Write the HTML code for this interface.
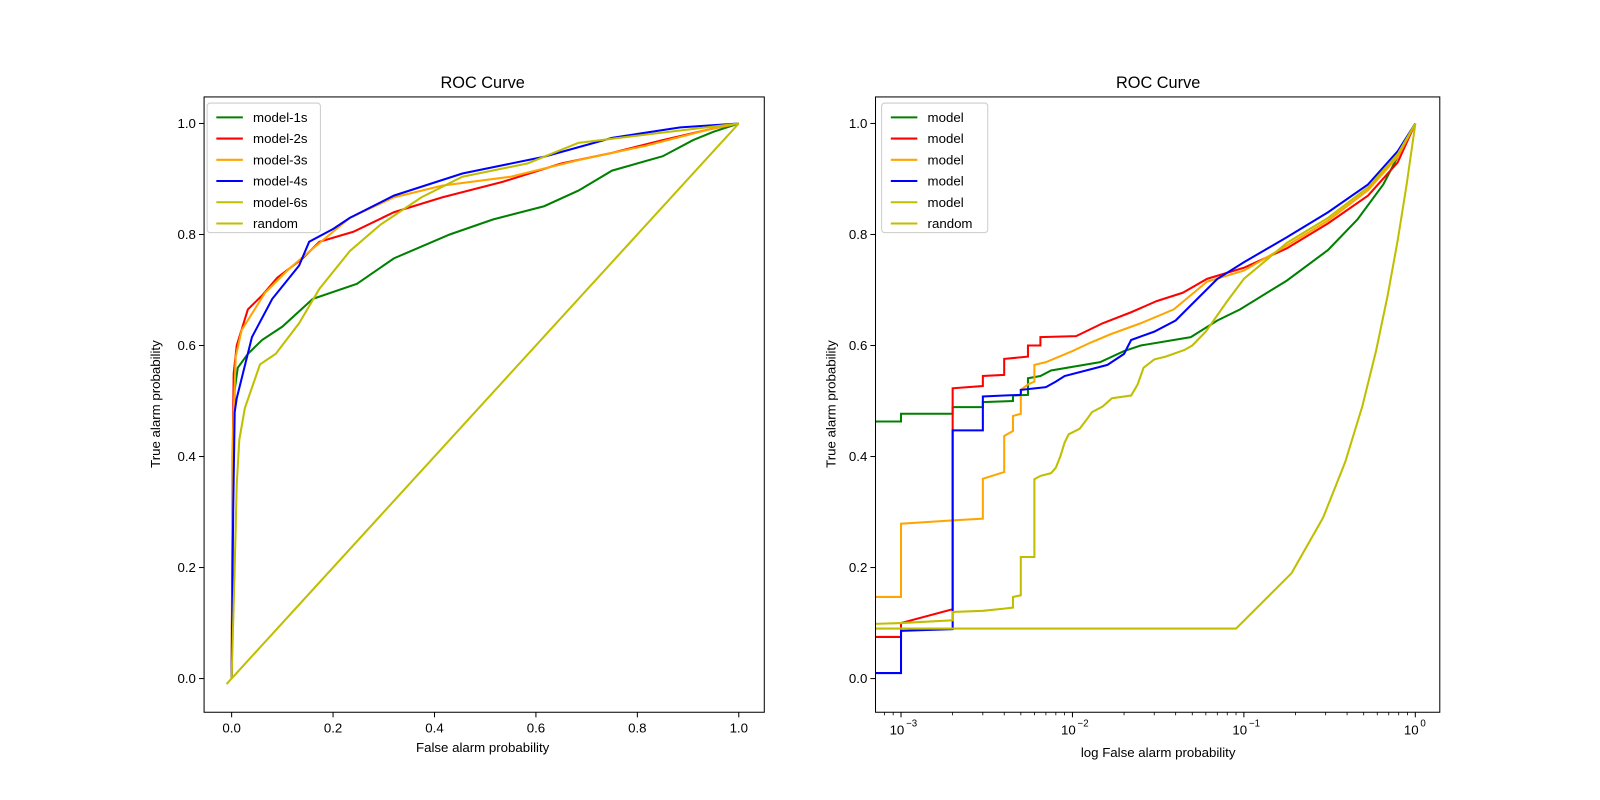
<!DOCTYPE html>
<html><head><meta charset="utf-8"><style>
body{margin:0;background:#fff;}
svg{display:block;font-family:"Liberation Sans","DejaVu Sans",sans-serif;}
</style></head><body>
<svg id="chart" width="1600" height="800" viewBox="0 0 1600 800">
<defs>
<clipPath id="clipL"><rect x="200" y="95" width="549" height="603"/></clipPath>
<clipPath id="clipR"><rect x="858" y="95" width="553" height="603"/></clipPath>
</defs>
<rect width="1600" height="800" fill="#fff"/>
<g transform="scale(1.020408)">
<g id="gL"></g>
<g id="gR"></g>
</g>
</svg>
<script>
const NS='http://www.w3.org/2000/svg';
const seriesNames=['model-1s','model-2s','model-3s','model-4s','model-6s','random'];
const seriesColors=['#008000','#ff0000','#ffa500','#0000ff','#bfbf00','#bfbf00'];
const yTicks=[0,0.2,0.4,0.6,0.8,1.0];
const yTickLabels=['0.0','0.2','0.4','0.6','0.8','1.0'];
const xTicksL=[0,0.2,0.4,0.6,0.8,1.0];
const xTickLabelsL=['0.0','0.2','0.4','0.6','0.8','1.0'];
const xTicksR=[-3,-2,-1,0];
// left panel data: [fpr, tpr]
const left1s=[[0,0],[0.002,0.3],[0.006,0.52],[0.012,0.56],[0.032,0.585],[0.06,0.61],[0.1,0.634],[0.16,0.684],[0.247,0.711],[0.32,0.757],[0.43,0.8],[0.515,0.827],[0.616,0.851],[0.684,0.879],[0.75,0.915],[0.85,0.941],[0.91,0.97],[0.95,0.985],[1,1]];
const left2s=[[0,0],[0.002,0.4],[0.004,0.55],[0.01,0.6],[0.032,0.665],[0.06,0.69],[0.09,0.722],[0.14,0.757],[0.173,0.787],[0.24,0.805],[0.32,0.84],[0.415,0.867],[0.535,0.895],[0.65,0.928],[0.75,0.947],[0.85,0.97],[0.945,0.99],[1,1]];
const left3s=[[0,0],[0.003,0.45],[0.008,0.58],[0.02,0.628],[0.066,0.695],[0.113,0.738],[0.167,0.78],[0.233,0.83],[0.32,0.867],[0.415,0.888],[0.55,0.904],[0.684,0.934],[0.817,0.96],[0.945,0.99],[1,1]];
const left4s=[[0,0],[0.003,0.3],[0.006,0.48],[0.01,0.505],[0.04,0.615],[0.08,0.684],[0.133,0.744],[0.153,0.787],[0.2,0.81],[0.233,0.83],[0.32,0.87],[0.455,0.91],[0.616,0.94],[0.75,0.974],[0.885,0.993],[1,1]];
const left6s=[[0,0],[0.006,0.2],[0.01,0.35],[0.015,0.43],[0.026,0.487],[0.056,0.566],[0.087,0.585],[0.133,0.64],[0.173,0.702],[0.233,0.77],[0.294,0.818],[0.374,0.867],[0.455,0.904],[0.583,0.928],[0.684,0.965],[0.817,0.98],[1,1]];
const leftRandom=[[-0.01,-0.01],[1,1]];
// right (log) panel data: [fpr, tpr]
const right1s=[[0.0005,0.463],[0.001,0.463],[0.001,0.477],[0.002,0.477],[0.002,0.489],[0.003,0.489],[0.003,0.498],[0.0045,0.5],[0.0045,0.51],[0.0055,0.511],[0.0055,0.541],[0.0065,0.545],[0.0075,0.555],[0.0145,0.57],[0.02,0.59],[0.025,0.6],[0.049,0.615],[0.07,0.645],[0.095,0.665],[0.178,0.717],[0.31,0.772],[0.46,0.827],[0.65,0.89],[0.87,0.965],[1,1]];
const right2s=[[0.0005,0.075],[0.001,0.075],[0.001,0.1],[0.002,0.125],[0.002,0.523],[0.003,0.527],[0.003,0.545],[0.004,0.547],[0.004,0.576],[0.0055,0.58],[0.0055,0.6],[0.0065,0.6],[0.0065,0.615],[0.0105,0.617],[0.015,0.64],[0.022,0.66],[0.031,0.68],[0.044,0.695],[0.061,0.72],[0.1,0.74],[0.178,0.775],[0.31,0.82],[0.53,0.87],[0.79,0.93],[1,1]];
const right3s=[[0.0005,0.147],[0.001,0.147],[0.001,0.279],[0.002,0.285],[0.003,0.288],[0.003,0.36],[0.004,0.372],[0.004,0.437],[0.0045,0.446],[0.0045,0.473],[0.005,0.477],[0.005,0.52],[0.0055,0.53],[0.006,0.535],[0.006,0.565],[0.007,0.57],[0.01,0.59],[0.0127,0.605],[0.0166,0.62],[0.025,0.64],[0.039,0.665],[0.061,0.715],[0.1,0.735],[0.178,0.78],[0.31,0.825],[0.53,0.88],[0.79,0.94],[1,1]];
const right4s=[[0.0005,0.01],[0.001,0.01],[0.001,0.086],[0.002,0.089],[0.002,0.447],[0.003,0.447],[0.003,0.508],[0.004,0.51],[0.005,0.511],[0.005,0.52],[0.007,0.525],[0.008,0.535],[0.009,0.545],[0.012,0.555],[0.016,0.565],[0.02,0.585],[0.022,0.61],[0.03,0.625],[0.04,0.645],[0.05,0.675],[0.07,0.72],[0.1,0.75],[0.178,0.795],[0.31,0.84],[0.53,0.89],[0.79,0.95],[1,1]];
const right6s=[[0.0005,0.097],[0.001,0.1],[0.002,0.105],[0.002,0.12],[0.003,0.122],[0.004,0.126],[0.0045,0.128],[0.0045,0.147],[0.005,0.15],[0.005,0.219],[0.006,0.219],[0.006,0.359],[0.0065,0.365],[0.0075,0.37],[0.008,0.38],[0.0085,0.4],[0.009,0.425],[0.0095,0.44],[0.011,0.45],[0.012,0.465],[0.013,0.48],[0.015,0.49],[0.017,0.505],[0.022,0.51],[0.024,0.53],[0.026,0.56],[0.03,0.575],[0.035,0.58],[0.045,0.592],[0.05,0.6],[0.06,0.625],[0.08,0.68],[0.1,0.72],[0.178,0.785],[0.31,0.83],[0.53,0.885],[0.79,0.945],[1,1]];
const rightRandom=[[0.0005,0.09],[0.09,0.09],[0.19,0.19],[0.29,0.29],[0.39,0.39],[0.49,0.49],[0.59,0.59],[0.69,0.69],[0.79,0.79],[0.89,0.89],[0.99,0.99],[1,1]];
const leftSeries=[left1s,left2s,left3s,left4s,left6s,leftRandom];
const rightSeries=[right1s,right2s,right3s,right4s,right6s,rightRandom];

function el(tag,attrs,parent){const e=document.createElementNS(NS,tag);for(const k in attrs)e.setAttribute(k,attrs[k]);parent.appendChild(e);return e;}
const yS=v=>665-544*v;
const xL=v=>227+497*v;
const xR=v=>883+168*(Math.log10(v)+3);

function yAxis(g,x0){
  yTicks.forEach((t,i)=>{
    const tk=el('line',{x1:x0-5,x2:x0,y1:yS(t),y2:yS(t),stroke:'#000','stroke-width':1},g);
    
    
    const tx=el('text',{x:x0-8,y:yS(t)+4.5,'text-anchor':'end','font-size':'13'},g);
    tx.textContent=yTickLabels[i];
    
    
  });
}
function frame(g,x,w,name){
  const r=el('rect',{x:x,y:95,width:w,height:603,fill:'none',stroke:'#000','stroke-width':1},g);
  
  
}
function drawSeries(g,data,xf,clip,logScale){
  data.forEach((pts,i)=>{
    const p=pts.filter(d=>!logScale||d[0]>0).map(d=>xf(d[0]).toFixed(1)+','+yS(d[1]).toFixed(1)).join(' ');
    const pl=el('polyline',{points:p,fill:'none',stroke:seriesColors[i],'stroke-width':2,'clip-path':'url(#'+clip+')','stroke-linejoin':'miter'},g);
    
    
  });
}
function legend(g,x,w,labels){
  const box=el('rect',{x:x,y:101,width:w,height:127,rx:3,fill:'#fff','fill-opacity':0.8,stroke:'#ccc','stroke-width':1},g);
  
  
  labels.forEach((lb,i)=>{
    const y=115+i*20.8;
    const ln=el('line',{x1:x+9,x2:x+35,y1:y,y2:y,stroke:seriesColors[i],'stroke-width':2},g);
    
    
    const t=el('text',{x:x+45,y:y+4.5,'font-size':'13'},g);
    t.textContent=lb;
    
    
  });
}
function title(g,x,txt){const t=el('text',{x:x,y:86,'text-anchor':'middle','font-size':'16'},g);t.textContent=txt;}

// LEFT
const gL=document.getElementById('gL');
drawSeries(gL,leftSeries,xL,'clipL',false);
frame(gL,200,549,'left-plot-area');
yAxis(gL,200);
xTicksL.forEach((t,i)=>{
  const tk=el('line',{x1:xL(t),x2:xL(t),y1:698,y2:703,stroke:'#000','stroke-width':1},gL);
  
  
  const tx=el('text',{x:xL(t),y:718,'text-anchor':'middle','font-size':'13'},gL);
  tx.textContent=xTickLabelsL[i];
  
  
});
title(gL,473,'ROC Curve');
(function(){const t=el('text',{x:473,y:737,'text-anchor':'middle','font-size':'13'},gL);t.textContent='False alarm probability';
const t2=el('text',{x:0,y:0,'text-anchor':'middle','font-size':'13',transform:'translate(157,396) rotate(-90)'},gL);t2.textContent='True alarm probability';})();
legend(gL,203,111,seriesNames);

// RIGHT
const gR=document.getElementById('gR');
drawSeries(gR,rightSeries,xR,'clipR',true);
frame(gR,858,553,'right-plot-area');
yAxis(gR,858);
for(let d=-4;d<=0;d++){for(let m=2;m<=9;m++){const v=m*Math.pow(10,d);const x=xR(v);if(x<858||x>1411)continue;
  const tk=el('line',{x1:x,x2:x,y1:698,y2:701,stroke:'#000','stroke-width':0.8},gR);
  
  }}
xTicksR.forEach(e=>{
  const x=xR(Math.pow(10,e));
  const tk=el('line',{x1:x,x2:x,y1:698,y2:703,stroke:'#000','stroke-width':1},gR);
  
  
  const tx=el('text',{x:x-4,y:720,'text-anchor':'middle','font-size':'13'},gR);
  tx.textContent='10';
  
  
  const sp=el('text',{x:x+5,y:712,'text-anchor':'start','font-size':'9.5'},gR);
  sp.textContent=e===0?'0':'\u2212'+(-e);
  
  
});
title(gR,1135,'ROC Curve');
(function(){const t=el('text',{x:1135,y:742,'text-anchor':'middle','font-size':'13'},gR);t.textContent='log False alarm probability';
const t2=el('text',{x:0,y:0,'text-anchor':'middle','font-size':'13',transform:'translate(819,396) rotate(-90)'},gR);t2.textContent='True alarm probability';})();
legend(gR,864,104,['model','model','model','model','model','random']);
</script>
</body></html>
